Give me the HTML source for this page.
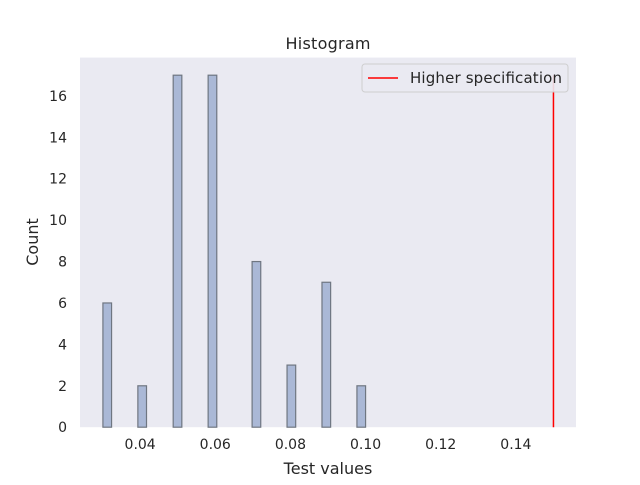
<!DOCTYPE html>
<html><head><meta charset="utf-8"><style>
body{margin:0;background:#fff;font-family:"Liberation Sans","DejaVu Sans",sans-serif}
</style></head><body>
<svg id="chart" width="640" height="480" xmlns="http://www.w3.org/2000/svg" font-family="DejaVu Sans, Liberation Sans, sans-serif">
<rect x="0" y="0" width="640" height="480" fill="#fff"/>
<rect x="80" y="57.6" width="496" height="369.6" fill="#eaeaf2"/>
<g id="bars"></g>
<g id="ticks"></g>
<text x="328" y="49" text-anchor="middle" font-size="16" textLength="85" fill="#262626">Histogram</text>
<text x="328" y="474" text-anchor="middle" font-size="16" fill="#262626">Test values</text>
<text transform="translate(38,242) rotate(-90)" text-anchor="middle" font-size="16" fill="#262626">Count</text>
<g>
<rect x="362" y="64" width="206" height="28" rx="3" fill="#eaeaf2" stroke="#cccccc" stroke-width="1" opacity="0.9"/>
<line x1="368" y1="78" x2="398" y2="78" stroke="#ff0000" stroke-width="1.5"/>
<text x="410" y="83" font-size="15" textLength="152" fill="#262626">Higher specification</text>
</g>
</svg>
<script>
const binLefts=[0.0301,0.0394,0.0488,0.0581,0.0698,0.0791,0.0884,0.0977];
const counts=[6,2,17,17,8,3,7,2];
const xTicks=[0.04,0.06,0.08,0.10,0.12,0.14];
const yTicks=[0,2,4,6,8,10,12,14,16];
const specLimit=0.15;
const binWidth=0.0023;
const ns="http://www.w3.org/2000/svg";
const X0=80,X1=576,Y0=427.2,Y1=57.6,xmin=0.024,xmax=0.156,ymax=17.85;
const sx=v=>X0+(v-xmin)/(xmax-xmin)*(X1-X0);
const sy=v=>Y0-v/ymax*(Y0-Y1);
const bars=document.getElementById('bars');
binLefts.forEach((b,i)=>{
 const r=document.createElementNS(ns,'rect');
 r.setAttribute('x',sx(b));r.setAttribute('width',sx(b+binWidth)-sx(b));
 r.setAttribute('y',sy(counts[i]));r.setAttribute('height',sy(0)-sy(counts[i]));
 r.setAttribute('fill','#aab8d6');r.setAttribute('stroke','#6f7681');r.setAttribute('stroke-width','1.2');
 
 
 bars.appendChild(r);
});
const sl=document.createElementNS(ns,'line');
sl.setAttribute('x1',sx(specLimit));sl.setAttribute('x2',sx(specLimit));
sl.setAttribute('y1',sy(0));sl.setAttribute('y2',sy(17));
sl.setAttribute('stroke','#ff0000');sl.setAttribute('stroke-width','1.5');


bars.appendChild(sl);
const tk=document.getElementById('ticks');
xTicks.forEach(t=>{
 const e=document.createElementNS(ns,'text');
 e.setAttribute('x',sx(t));e.setAttribute('y',449);e.setAttribute('text-anchor','middle');
 e.setAttribute('font-size','14');e.setAttribute('fill','#262626');
 e.textContent=t.toFixed(2);
 
 
 tk.appendChild(e);
});
yTicks.forEach(t=>{
 const e=document.createElementNS(ns,'text');
 e.setAttribute('x',67);e.setAttribute('y',sy(t)+5);e.setAttribute('text-anchor','end');
 e.setAttribute('font-size','14');e.setAttribute('fill','#262626');
 e.textContent=t;
 
 
 tk.appendChild(e);
});
</script>
</body></html>
